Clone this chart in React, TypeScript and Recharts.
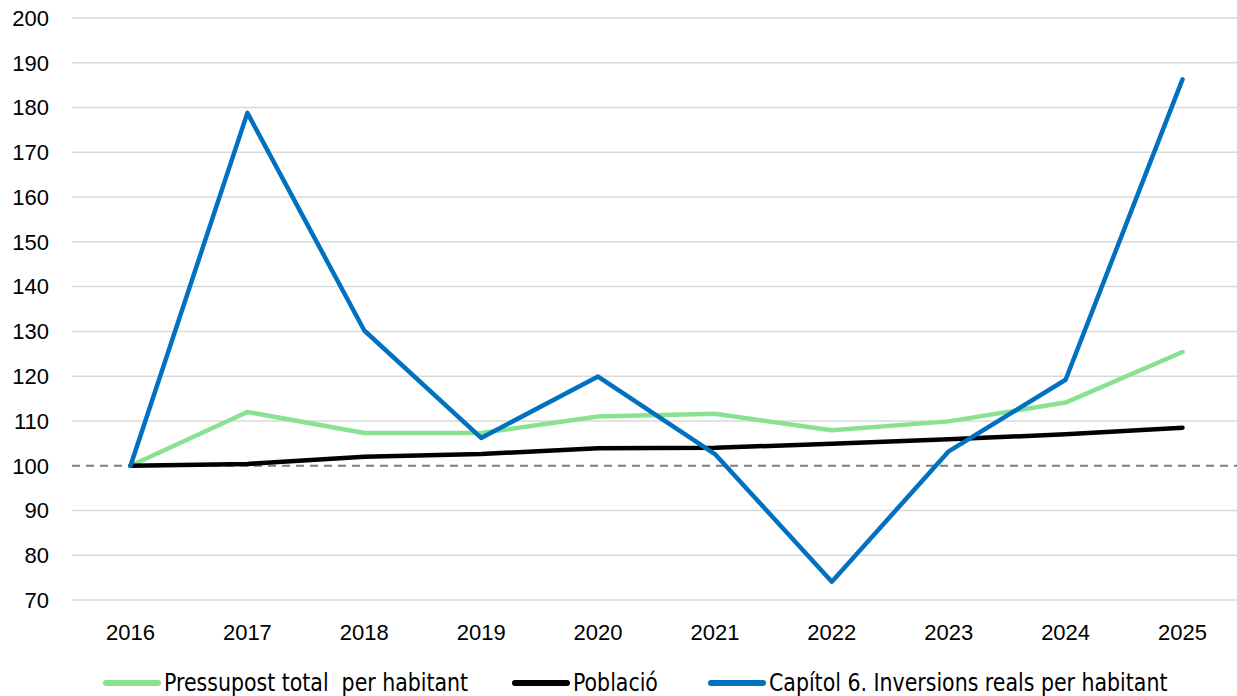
import React from 'react';
import { LineChart, Line, XAxis, YAxis, CartesianGrid, ReferenceLine } from 'recharts';

const years = ['2016', '2017', '2018', '2019', '2020', '2021', '2022', '2023', '2024', '2025'];
const pressupost = [100, 112.0, 107.3, 107.3, 111.0, 111.6, 107.9, 109.9, 114.1, 125.4];
const poblacio = [100, 100.4, 102.0, 102.6, 103.9, 104.0, 104.9, 105.9, 107.0, 108.5];
const capitol6 = [100, 178.8, 130.2, 106.2, 119.9, 102.6, 74.1, 103.2, 119.2, 186.3];
const yTicks = [70, 80, 90, 100, 110, 120, 130, 140, 150, 160, 170, 180, 190, 200];

const seriesNames = ['Pressupost total  per habitant', 'Població', 'Capítol 6. Inversions reals per habitant'];
const seriesKeys = ['pressupost', 'poblacio', 'capitol6'];
const seriesColors = ['#88E290', '#000000', '#0070C0'];
const legendLefts = [103, 512, 708];

const data = years.map((y, i) => ({
  year: y,
  pressupost: pressupost[i],
  poblacio: poblacio[i],
  capitol6: capitol6[i],
}));

const tickStyle = { fontFamily: '"Liberation Sans", Arial, sans-serif', fontSize: 22, fill: '#000' };

export default function App() {
  return (
    <div style={{ position: 'absolute', left: 0, top: 0, width: 1237, height: 696, overflow: 'hidden', background: '#fff' }}>
      <LineChart width={1250} height={696} data={data} margin={{ top: 18, right: 9, bottom: 0, left: 0 }}>
        <CartesianGrid vertical={false} stroke="#d9d9d9" strokeWidth={1.5} />
        <XAxis
          dataKey="year"
          axisLine={false}
          tickLine={false}
          tickSize={0}
          tickMargin={24}
          height={96}
          tick={tickStyle}
          interval={0}
          padding={{ left: 58.5, right: 58.5 }}
        />
        <YAxis
          domain={[70, 200]}
          ticks={yTicks}
          axisLine={false}
          tickLine={false}
          tickSize={0}
          tickMargin={23}
          width={72}
          tick={tickStyle}
          interval={0}
        />
        <ReferenceLine y={100} stroke="#ffffff" strokeWidth={2} />
        <ReferenceLine y={100} stroke="#7f7f7f" strokeWidth={2} strokeDasharray="8 6" />
        {seriesKeys.map((k, i) => (
          <Line
            key={k}
            type="linear"
            dataKey={k}
            name={seriesNames[i]}
            stroke={seriesColors[i]}
            strokeWidth={4.5}
            strokeLinecap="round"
            strokeLinejoin="round"
            dot={false}
            activeDot={false}
            isAnimationActive={false}
          />
        ))}
      </LineChart>
      {seriesNames.map((n, i) => (
        <div
          key={n}
          style={{
            position: 'absolute',
            left: legendLefts[i],
            top: 669,
            height: 28,
            display: 'flex',
            alignItems: 'center',
            whiteSpace: 'pre',
          }}
        >
          <div style={{ width: 58, height: 6, borderRadius: 3, background: seriesColors[i], marginRight: 3, flex: 'none' }} />
          <span
            style={{
              fontFamily: '"Liberation Sans Narrow", "Arial Narrow", "DejaVu Sans Condensed", sans-serif',
              fontSize: 24,
              color: '#000',
              lineHeight: '28px',
              display: 'inline-block',
              transform: 'scaleX(0.95)',
              transformOrigin: 'left center',
            }}
          >
            {n}
          </span>
        </div>
      ))}
    </div>
  );
}
